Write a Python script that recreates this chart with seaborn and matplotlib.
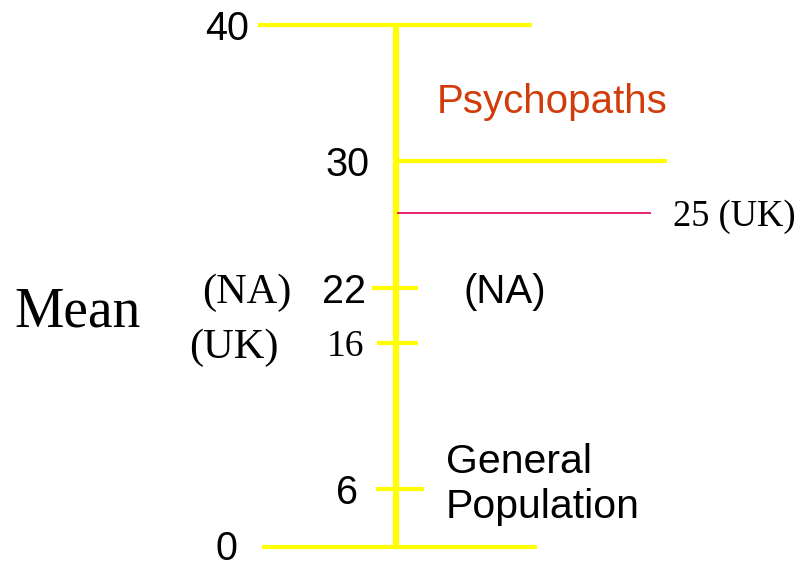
"""Psychopathy scale diagram: general population vs psychopaths (NA / UK means)."""

import matplotlib
matplotlib.use("Agg")
import matplotlib.pyplot as plt
import numpy as np
import seaborn as sns

# --- data -------------------------------------------------------------
scale_range = [0, 40]
long_levels = [40, 30, 0]
mean_levels = [22, 16, 6]
uk_psychopath_mean = 25
tick_values = [40, 30, 22, 16, 6, 0]
tick_labels = ["40", "30", "22", "16", "6", "0"]
group_labels = ["Psychopaths", "General\nPopulation"]
group_values = [34.6, 6.3]

# --- layout (pixel positions of the hand drawn scale) ------------------
SCALE_VALUES = [-10, 0, 6, 16, 22, 25, 30, 40, 50]
SCALE_PIXELS = [-77, 20, 78, 224, 279, 354, 406, 542, 678]
AXIS_X = 396
LONG_SPANS = {40: (258, 532), 30: (397, 667), 0: (262, 537)}
SHORT_SPANS = {22: (372, 418), 16: (377, 418), 6: (376, 424)}
YELLOW = "#ffff00"


def fwd(v):
    return np.interp(v, SCALE_VALUES, SCALE_PIXELS)


def inv(p):
    return np.interp(p, SCALE_PIXELS, SCALE_VALUES)


sns.set_theme(style="white")
plt.rcParams["font.family"] = ["Liberation Sans", "DejaVu Sans"]

fig = plt.figure(figsize=(8, 5.67), dpi=100)
ax = fig.add_axes([0, 0, 1, 1])
ax.set_yscale("function", functions=(fwd, inv))
ax.set_xlim(0, 800)
ax.set_ylim(inv(0), inv(567))
ax.axis("off")

# main vertical scale
sns.lineplot(x=[AXIS_X, AXIS_X], y=scale_range, color=YELLOW, linewidth=4.4,
             ax=ax, solid_capstyle="butt", estimator=None, sort=False)

for lvl in long_levels:
    x0, x1 = LONG_SPANS[lvl]
    ax.hlines(lvl, x0, x1, color=YELLOW, lw=3.0)
for lvl in mean_levels:
    x0, x1 = SHORT_SPANS[lvl]
    ax.hlines(lvl, x0, x1, color=YELLOW, lw=3.0)
ax.hlines(uk_psychopath_mean, 397, 651, color="#e6005a", lw=1.2)

sans = dict(family=["Liberation Sans", "DejaVu Sans"], color="black")
serif = dict(family=["Liberation Serif", "DejaVu Serif"], color="black")

tick_x = {"40": 249, "30": 369, "22": 366, "16": 364, "6": 358, "0": 237}
for val, lab in zip(tick_values, tick_labels):
    style = serif if lab == "16" else sans
    size = 27 if lab == "16" else 28.5
    # keep the bottom "0" fully inside the canvas
    ypos = val + 0.25 if val == 0 else val
    ax.text(tick_x[lab], ypos, lab, ha="right", va="center_baseline",
            fontsize=size, **style)

ax.text(291, 22, "(NA)", ha="right", va="center_baseline", fontsize=30.5, **serif)
ax.text(279, 16, "(UK)", ha="right", va="center_baseline", fontsize=30.5, **serif)
ax.text(14, 20, "Mean", ha="left", va="center_baseline", fontsize=40, **serif)
ax.text(463, 22, "(NA)", ha="left", va="center_baseline", fontsize=29, **sans)
ax.text(673, uk_psychopath_mean, "25 (UK)", ha="left", va="center_baseline",
        fontsize=26.3, **serif)

ax.text(437, group_values[0], group_labels[0], ha="left", va="center_baseline",
        fontsize=29, family=["Liberation Sans", "DejaVu Sans"], color="#d23c0a")
ax.text(446, group_values[1], group_labels[1], ha="left", va="center",
        fontsize=29.5, linespacing=1.23, **sans)

fig.savefig("out.png", dpi=100, facecolor="white")
